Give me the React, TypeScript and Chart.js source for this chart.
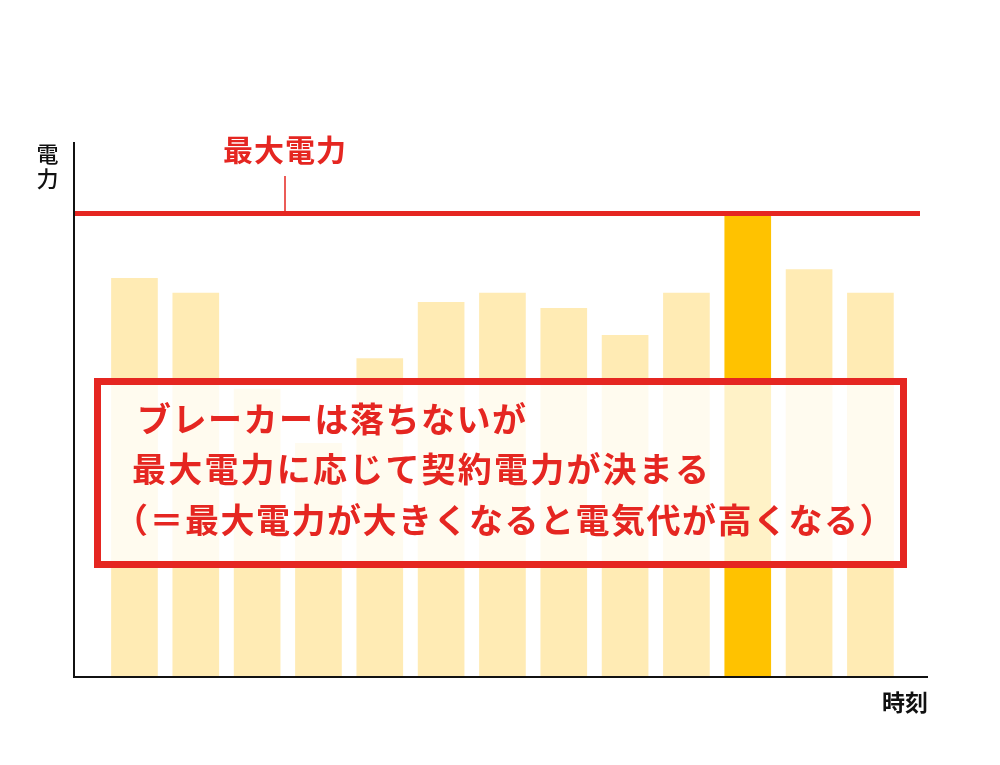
import React, { useEffect, useRef } from "react";
import { Chart, registerables } from "chart.js";

Chart.register(...registerables);

const timeSlots: number[] = [0, 1, 2, 3, 4, 5, 6, 7, 8, 9, 10, 11, 12];
const powerValues: number[] = [86.0, 82.8, 62.1, 50.4, 68.7, 80.8, 82.8, 79.5, 73.7, 82.8, 99.5, 87.9, 82.8];
const peakIndex = 10;
const maxPower = 100;
const yAxisLabel = ["電", "力"];
const xAxisLabel = "時刻";
const maxLabel = "最大電力";
const noteLines = [
  "ブレーカーは落ちないが",
  "最大電力に応じて契約電力が決まる",
  "（＝最大電力が大きくなると電気代が高くなる）",
];

const RED = "#E52621";
const PALE = "#FFEBB4";
const BRIGHT = "#FFC200";
const JP = "'Noto Sans CJK JP', 'Noto Sans', sans-serif";

const overlayPlugin = {
  id: "overlay",
  afterDatasetsDraw(chart: any) {
    const { ctx, chartArea, scales } = chart;
    const y = scales.y;
    const yMax = y.getPixelForValue(maxPower);
    ctx.save();
    // axes
    ctx.strokeStyle = "#111";
    ctx.lineWidth = 2;
    ctx.beginPath();
    ctx.moveTo(chartArea.left, chartArea.top);
    ctx.lineTo(chartArea.left, chartArea.bottom);
    ctx.lineTo(chartArea.right, chartArea.bottom);
    ctx.stroke();
    // max power line
    ctx.strokeStyle = RED;
    ctx.lineWidth = 5;
    ctx.beginPath();
    ctx.moveTo(chartArea.left + 1, yMax);
    ctx.lineTo(chartArea.right - 8, yMax);
    ctx.stroke();
    // tick to label
    ctx.lineWidth = 1.5;
    ctx.beginPath();
    ctx.moveTo(285, yMax);
    ctx.lineTo(285, 176);
    ctx.stroke();
    // label
    ctx.fillStyle = RED;
    ctx.font = `bold 30px ${JP}`;
    (ctx as any).letterSpacing = "1px";
    ctx.textAlign = "center";
    ctx.textBaseline = "middle";
    ctx.fillText(maxLabel, 285, 150);
    // axis labels
    ctx.fillStyle = "#111";
    (ctx as any).letterSpacing = "0px";
    ctx.font = `500 22px ${JP}`;
    ctx.fillText(yAxisLabel[0], 47.5, 154);
    ctx.fillText(yAxisLabel[1], 47.5, 179);
    ctx.textAlign = "right";
    ctx.font = `bold 23px ${JP}`;
    ctx.fillText(xAxisLabel, 928, 702);
    // note box
    const bx = 94, by = 378, bw = 813, bh = 190, bt = 7;
    ctx.fillStyle = "rgba(255,255,255,0.78)";
    ctx.fillRect(bx, by, bw, bh);
    ctx.strokeStyle = RED;
    ctx.lineWidth = bt;
    ctx.strokeRect(bx + bt / 2, by + bt / 2, bw - bt, bh - bt);
    ctx.fillStyle = RED;
    ctx.font = `bold 34px ${JP}`;
    ctx.textAlign = "left";
    (ctx as any).letterSpacing = "1.5px";
    ctx.fillText(noteLines[0], 137, 419);
    (ctx as any).letterSpacing = "2.2px";
    ctx.fillText(noteLines[1], 132, 469);
    (ctx as any).letterSpacing = "1.5px";
    ctx.fillText(noteLines[2], 114, 520);
    ctx.restore();
  },
};

export default function App() {
  const ref = useRef<HTMLCanvasElement | null>(null);
  useEffect(() => {
    if (!ref.current) return;
    const chart = new Chart(ref.current, {
      type: "bar",
      data: {
        datasets: [
          {
            data: timeSlots.map((t, i) => ({ x: t, y: powerValues[i] })),
            backgroundColor: timeSlots.map((_, i) => (i === peakIndex ? BRIGHT : PALE)),
            barThickness: 46,
            borderWidth: 0,
          },
        ],
      },
      options: {
        animation: false,
        responsive: false,
        devicePixelRatio: 1,
        layout: { padding: { left: 74, right: 72, top: 142, bottom: 88 } },
        plugins: { legend: { display: false }, tooltip: { enabled: false } },
        scales: {
          x: { type: "linear", min: -0.986, max: 12.939, offset: false, display: false },
          y: { min: 0, max: 115.4, display: false },
        },
      },
      plugins: [overlayPlugin],
    });
    return () => chart.destroy();
  }, []);
  return (
    <div style={{ position: "fixed", left: 0, top: 0, width: 1000, height: 765, background: "#fff" }}>
      <canvas ref={ref} width={1000} height={765} />
    </div>
  );
}
